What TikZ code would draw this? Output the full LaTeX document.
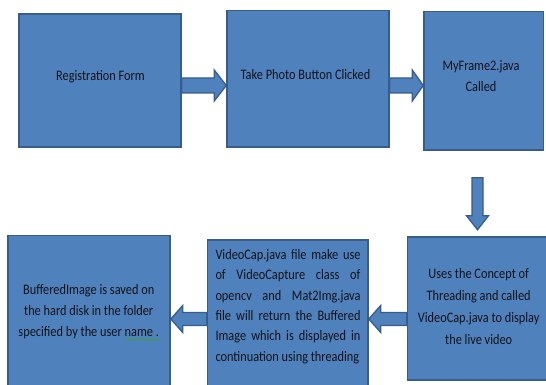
\documentclass[tikz,border=0pt]{standalone}
\usepackage{fontspec}
\setmainfont{Carlito}
\newfontfamily\condfont[FakeStretch=0.85]{Carlito}
\usetikzlibrary{calc,decorations.pathmorphing}
\definecolor{boxfill}{RGB}{79,129,189}
\definecolor{boxline}{RGB}{56,93,138}
\definecolor{txtcol}{RGB}{18,18,24}
\definecolor{squig}{RGB}{60,160,60}
\begin{document}
\begin{tikzpicture}[x=1pt,y=-1pt,
  box/.style={draw=boxline,fill=boxfill,line width=1.5pt,inner sep=0pt},
  blockarrow/.style={draw=boxline,fill=boxfill,line width=1.3pt,line join=miter},
  lbl/.style={text=txtcol,inner sep=0pt,align=center,font=\condfont\fontsize{14.5}{21}\selectfont},
]
\useasboundingbox (0,0) rectangle (546,385);
\begin{scope}
\clip (0,0) rectangle (546,385);
% boxes
\node[box,minimum width=162pt,minimum height=133pt] (b1) at (100,80.5) {};
\node[box,minimum width=162pt,minimum height=136.5pt] (b2) at (308,78.75) {};
\node[box,minimum width=119.5pt,minimum height=138.5pt] (b3) at (483.75,80.75) {};
\node[box,minimum width=162pt,minimum height=160pt] (bA) at (89,315.5) {};
\node[box,minimum width=160.5pt,minimum height=155pt] (bB) at (287.75,317.5) {};
\node[box,minimum width=142pt,minimum height=143pt] (bC) at (478.5,308.5) {};
% texts
\node[lbl] (t1) at (100.5,77) {Registration Form};
\node[lbl] (t2) at (305.5,75) {Take Photo Button Clicked};
\node[lbl] (t3) at (481,76.5) {MyFrame2.java\\Called};
\node[lbl,font=\condfont\fontsize{14.5}{22}\selectfont] (tC) at (478.7,307) {Uses the Concept of\\Threading and called\\VideoCap.java to display\\the live video};
\node[lbl,text width=145pt,align=justify,font=\condfont\fontsize{14.5}{20.3}\selectfont] (tB) at (288,306.5) {\hyphenpenalty=10000 VideoCap.java file make use\linebreak of VideoCapture class of\linebreak opencv and Mat2Img.java\linebreak file will return the Buffered\linebreak Image which is displayed in\linebreak continuation using threading};
\node[lbl] (tA) at (88.7,312) {BufferedImage is saved on\\the hard disk in the folder\\specified by the user name .};
\draw[squig,line width=0.6pt,decorate,decoration={snake,amplitude=0.7pt,segment length=2.2pt}] (125,339.5) -- (159,339.5);
% arrow coordinates
\coordinate (ya) at (0,85.5);
\coordinate (yb) at (0,319);
\coordinate (xd) at (477.5,0);
% arrow 1: b1 -> b2
\draw[blockarrow] ($(b1.east|-ya)+(0,-7.5)$) -- ($(b2.west|-ya)+(-12,-7.5)$) -- ($(b2.west|-ya)+(-12,-15.5)$) -- (b2.west|-ya) -- ($(b2.west|-ya)+(-12,15.5)$) -- ($(b2.west|-ya)+(-12,7.5)$) -- ($(b1.east|-ya)+(0,7.5)$) -- cycle;
% arrow 2: b2 -> b3
\draw[blockarrow] ($(b2.east|-ya)+(0,-7.5)$) -- ($(b3.west|-ya)+(-11,-7.5)$) -- ($(b3.west|-ya)+(-11,-15.5)$) -- (b3.west|-ya) -- ($(b3.west|-ya)+(-11,15.5)$) -- ($(b3.west|-ya)+(-11,7.5)$) -- ($(b2.east|-ya)+(0,7.5)$) -- cycle;
% arrow 3: b3 -> bC (down)
\draw[blockarrow] ($(xd|-b3.south)+(-5.5,27)$) -- ($(xd|-bC.north)+(-5.5,-20.5)$) -- ($(xd|-bC.north)+(-11,-20.5)$) -- ($(xd|-bC.north)+(0,-6.5)$) -- ($(xd|-bC.north)+(11,-20.5)$) -- ($(xd|-bC.north)+(5.5,-20.5)$) -- ($(xd|-b3.south)+(5.5,27)$) -- cycle;
% arrow 4: bC -> bB
\draw[blockarrow] ($(bC.west|-yb)+(0,-6.5)$) -- ($(bB.east|-yb)+(12,-6.5)$) -- ($(bB.east|-yb)+(12,-13.5)$) -- (bB.east|-yb) -- ($(bB.east|-yb)+(12,13.5)$) -- ($(bB.east|-yb)+(12,6.5)$) -- ($(bC.west|-yb)+(0,6.5)$) -- cycle;
% arrow 5: bB -> bA
\draw[blockarrow] ($(bB.west|-yb)+(0,-6.5)$) -- ($(bA.east|-yb)+(12,-6.5)$) -- ($(bA.east|-yb)+(12,-13.5)$) -- (bA.east|-yb) -- ($(bA.east|-yb)+(12,13.5)$) -- ($(bA.east|-yb)+(12,6.5)$) -- ($(bB.west|-yb)+(0,6.5)$) -- cycle;
\end{scope}
\end{tikzpicture}
\end{document}
